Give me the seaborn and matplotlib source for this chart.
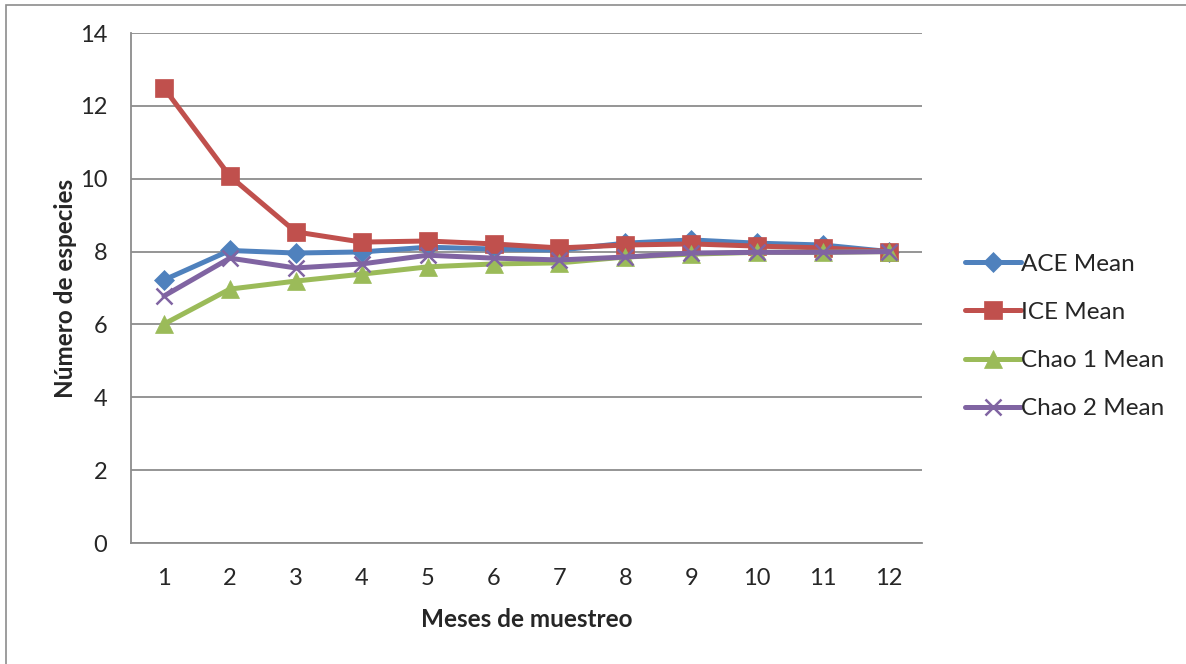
import matplotlib
matplotlib.use("Agg")
import matplotlib.pyplot as plt
from matplotlib.patches import Rectangle
import pandas as pd
import seaborn as sns

# Species richness estimators per sampling month
meses = [1, 2, 3, 4, 5, 6, 7, 8, 9, 10, 11, 12]
ace_mean = [7.22, 8.03, 7.96, 7.99, 8.12, 8.07, 8.04, 8.23, 8.32, 8.23, 8.18, 8.00]
ice_mean = [12.49, 10.07, 8.54, 8.26, 8.29, 8.21, 8.10, 8.18, 8.21, 8.15, 8.10, 8.00]
chao1_mean = [6.01, 6.97, 7.19, 7.38, 7.58, 7.66, 7.69, 7.85, 7.93, 7.98, 7.98, 8.00]
chao2_mean = [6.78, 7.82, 7.55, 7.66, 7.90, 7.82, 7.77, 7.85, 7.96, 7.98, 7.98, 8.00]

series_names = ["ACE Mean", "ICE Mean", "Chao 1 Mean", "Chao 2 Mean"]
series_values = [ace_mean, ice_mean, chao1_mean, chao2_mean]
y_ticks = [0, 2, 4, 6, 8, 10, 12, 14]

colors = ["#4F81BD", "#C0504D", "#9BBB59", "#8064A2"]
markers = ["D", "s", "^", "x"]
msizes = [10, 13, 13, 12]

sns.set_theme(style="white")
plt.rcParams["font.family"] = ["Lato", "DejaVu Sans"]

fig = plt.figure(figsize=(11.86, 6.64), dpi=100)
ax = fig.add_axes([131 / 1186, 1 - 543 / 664, (922 - 131) / 1186, (543 - 33) / 664])

# Outer chart frame (only top and left edges fall inside the canvas)
fig.patches.append(Rectangle((6 / 1186, -0.1), 1.2, 1.1 - 5 / 664,
                             transform=fig.transFigure, fill=False,
                             edgecolor="#8c8c8c", linewidth=1.2))

frames = []
for name, vals in zip(series_names, series_values):
    frames.append(pd.DataFrame({"mes": meses, "valor": vals, "serie": name}))
df = pd.concat(frames, ignore_index=True)

for name, col, mk, ms in zip(series_names, colors, markers, msizes):
    sub = df[df["serie"] == name]
    sns.lineplot(data=sub, x="mes", y="valor", ax=ax, color=col, linewidth=3.6,
                 marker=mk, markersize=ms, markeredgecolor=col,
                 markeredgewidth=1.8 if mk == "x" else 0.5, label=name)

ax.set_xlim(0.5, 12.5)
ax.set_ylim(0, 14)
ax.set_yticks(y_ticks)
ax.set_yticklabels([str(t) for t in y_ticks], fontsize=17)
ax.set_xticks(meses)
ax.set_xticklabels([str(m) for m in meses], fontsize=17)
ax.set_xticks([m + 0.5 for m in [0] + meses], minor=True)
ax.tick_params(axis="x", which="major", length=0, pad=18)
ax.tick_params(axis="x", which="minor", length=6, width=1.2, color="#8c8c8c", direction="out")
ax.tick_params(axis="y", which="major", length=7, width=1.2, color="#8c8c8c", direction="out", pad=10)
ax.grid(axis="y", color="#8c8c8c", linewidth=1.3)
ax.set_axisbelow(True)

for side in ["top", "right"]:
    ax.spines[side].set_visible(False)
for side in ["left", "bottom"]:
    ax.spines[side].set_color("#8c8c8c")
    ax.spines[side].set_linewidth(1.3)

ax.set_xlabel("Meses de muestreo", fontsize=17.5, fontweight="bold", labelpad=14)
ax.set_ylabel("Número de especies", fontsize=17.5, fontweight="bold", labelpad=2)

leg = ax.legend(loc="center left", bbox_to_anchor=(1.027, 0.405), frameon=False,
                fontsize=17.5, handlelength=2.3, handletextpad=0.0, labelspacing=1.12)
for h in leg.legend_handles:
    h.set_linewidth(3.6)

fig.savefig("out.png", dpi=100)
